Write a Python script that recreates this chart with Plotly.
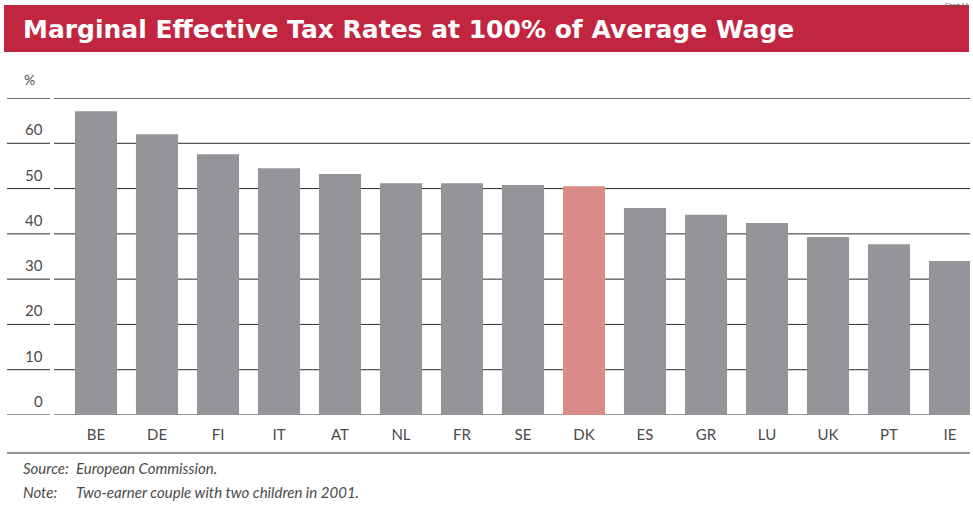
import plotly.graph_objects as go

# Marginal effective tax rates, two-earner couple with two children (2001)
countries = ["BE", "DE", "FI", "IT", "AT", "NL", "FR", "SE", "DK", "ES", "GR", "LU", "UK", "PT", "IE"]
rates = [67.1, 62.0, 57.6, 54.5, 53.2, 51.2, 51.2, 50.8, 50.5, 45.7, 44.2, 42.4, 39.3, 37.7, 34.0]
highlight = "DK"
y_ticks = [0, 10, 20, 30, 40, 50, 60]

GREY = "#939598"
PINK = "#D98C87"
RED = "#C1253F"
TEXT = "#4a4a4a"

W, H = 973, 505
L, R, T, B = 54, 3, 98, 90
plot_w = W - L - R
plot_h = H - T - B


def px_x(x):
    return (x - L) / plot_w


def px_y(y):
    return (H - B - y) / plot_h


colors = [PINK if c == highlight else GREY for c in countries]

fig = go.Figure(
    go.Bar(
        x=list(range(len(countries))),
        y=rates,
        marker=dict(color=colors, line=dict(width=0)),
        width=0.69,
        hoverinfo="x+y",
    )
)

shapes = []
# horizontal rules: full width inside plot, short stub at left
for v in y_ticks + [70]:
    is_top = v == 70
    col = "#6d6d6d" if is_top else "#2b2b2b"
    wid = 2 if is_top else 1
    shapes.append(dict(type="line", xref="paper", yref="y", x0=0, x1=1, y0=v, y1=v,
                       line=dict(color=col, width=wid), layer="below"))
    shapes.append(dict(type="line", xref="paper", yref="y", x0=px_x(7), x1=px_x(50), y0=v, y1=v,
                       line=dict(color=col, width=wid), layer="below"))
# rule under the category labels
shapes.append(dict(type="line", xref="paper", yref="paper", x0=px_x(7), x1=px_x(970),
                   y0=px_y(453), y1=px_y(453), line=dict(color="#2b2b2b", width=1)))
# title banner
shapes.append(dict(type="rect", xref="paper", yref="paper", x0=px_x(4), x1=px_x(969),
                   y0=px_y(52), y1=px_y(5), fillcolor=RED, line=dict(width=0), layer="below"))

annotations = []
for v in y_ticks:
    annotations.append(dict(x=px_x(45), y=v, xref="paper", yref="y", text=str(v),
                            showarrow=False, xanchor="right", yanchor="bottom", yshift=3,
                            font=dict(family="Lato, sans-serif", size=15, color=TEXT)))
annotations.append(dict(x=px_x(22), y=px_y(80), xref="paper", yref="paper", text="%",
                        showarrow=False, xanchor="left", yanchor="middle",
                        font=dict(family="Lato, sans-serif", size=14, color=TEXT)))
annotations.append(dict(x=px_x(21), y=px_y(29), xref="paper", yref="paper",
                        text="<b>Marginal Effective Tax Rates at 100% of Average Wage</b>",
                        showarrow=False, xanchor="left", yanchor="middle",
                        font=dict(family="DejaVu Sans, sans-serif", size=25, color="white")))
annotations.append(dict(x=px_x(970), y=px_y(0), xref="paper", yref="paper", text="Chart 14",
                        showarrow=False, xanchor="right", yanchor="top", borderpad=0,
                        font=dict(family="Lato, sans-serif", size=6, color="#555")))
for label, body, ypx in [("Source:", "European Commission.", 468),
                         ("Note:", "Two-earner couple with two children in 2001.", 492)]:
    annotations.append(dict(x=px_x(21), y=px_y(ypx), xref="paper", yref="paper",
                            text=f"<i>{label}</i>", showarrow=False, xanchor="left", yanchor="middle",
                            font=dict(family="Lato, sans-serif", size=15, color=TEXT)))
    annotations.append(dict(x=px_x(74), y=px_y(ypx), xref="paper", yref="paper",
                            text=f"<i>{body}</i>", showarrow=False, xanchor="left", yanchor="middle",
                            font=dict(family="Lato, sans-serif", size=15, color=TEXT)))

fig.update_layout(
    width=W, height=H,
    margin=dict(l=L, r=R, t=T, b=B, pad=0),
    paper_bgcolor="white", plot_bgcolor="white",
    showlegend=False,
    shapes=shapes,
    annotations=annotations,
    xaxis=dict(
        range=[(L - L - 42) / 61, (970 - 96) / 61],
        tickmode="array", tickvals=list(range(len(countries))), ticktext=countries,
        showgrid=False, zeroline=False, showline=False, ticks="",
        ticklabelstandoff=9,
        tickfont=dict(family="Lato, sans-serif", size=15, color=TEXT),
        fixedrange=True,
    ),
    yaxis=dict(
        range=[0, 70], showgrid=False, zeroline=False, showline=False,
        showticklabels=False, ticks="", fixedrange=True,
    ),
)

fig.write_html("out.html")
